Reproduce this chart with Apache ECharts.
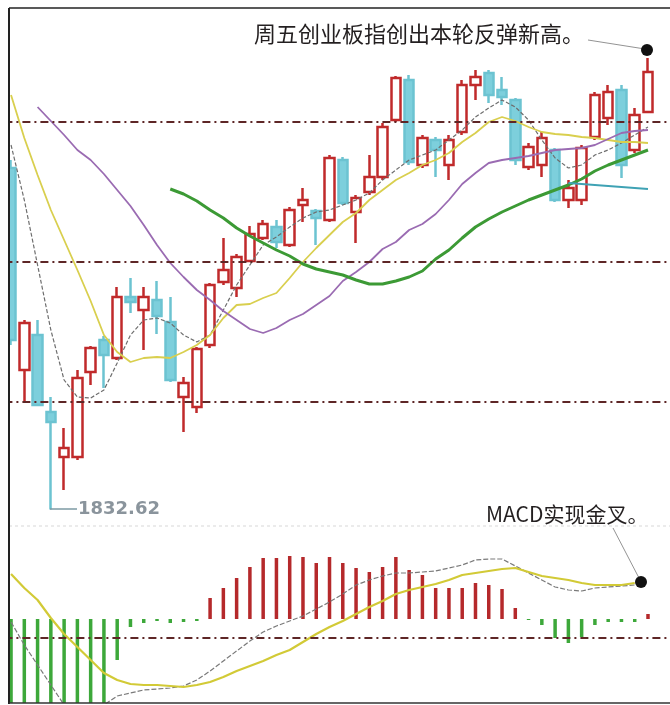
<!DOCTYPE html>
<html><head><meta charset="utf-8">
<script src="https://cdn.jsdelivr.net/npm/echarts@6/dist/echarts.min.js"></script>
<style>html,body{margin:0;padding:0;background:#fff}#c{width:670px;height:705px}</style>
</head><body><div id="c"></div>
<script>
// ---- data ----
const days = ['1','2','3','4','5','6','7','8','9','10','11','12','13','14','15','16','17','18','19','20','21','22','23','24','25','26','27','28','29','30','31','32','33','34','35','36','37','38','39','40','41','42','43','44','45','46','47','48','49'];
const kOpen  = [2174,1972,2007,1930,1885,1885,1970,2002,1984,2045,2032,2042,2020,1945,1935,1997,2060,2054,2081,2104,2115,2097,2137,2131,2122,2182,2130,2150,2165,2222,2262,2177,2202,2177,2210,2257,2269,2252,2242,2175,2177,2192,2142,2142,2205,2224,2252,2192,2230];
const kClose = [2002,2019,1937,1920,1894,1964,1994,1987,2045,2040,2045,2026,1962,1959,1993,2057,2072,2085,2108,2118,2100,2132,2142,2124,2184,2139,2144,2165,2215,2264,2180,2204,2192,2202,2257,2265,2247,2245,2182,2195,2204,2142,2154,2194,2247,2250,2177,2227,2270];
const kLow   = [1997,1939,1937,1832.62,1852,1882,1957,1954,1982,2029,1992,2008,1960,1910,1929,1994,2057,2045,2080,2102,2094,2095,2120,2097,2120,2137,2099,2147,2162,2220,2177,2174,2165,2162,2207,2242,2239,2237,2177,2172,2165,2140,2134,2137,2202,2217,2164,2189,2230];
const kHigh  = [2182,2022,2022,1945,1914,1972,1996,2006,2055,2064,2055,2061,2045,1965,1995,2059,2104,2088,2116,2122,2122,2135,2154,2133,2187,2185,2147,2187,2219,2266,2267,2207,2205,2207,2262,2272,2272,2265,2244,2199,2210,2194,2162,2197,2250,2257,2257,2234,2284];

const ma5  = [2197,2142,2077,2012,1962,1945,1944,1952,1979,2007,2022,2024,2019,2007,2000,2007,2032,2057,2077,2097,2105,2115,2124,2130,2132,2137,2142,2149,2162,2172,2182,2187,2192,2202,2212,2225,2234,2242,2235,2222,2202,2184,2174,2177,2187,2192,2199,2207,2215];
const ma10 = [2247,2204,2167,2132,2102,2072,2041,2007,1990,1980,1984,1985,1984,1990,1997,2007,2024,2037,2038,2044,2049,2064,2080,2094,2107,2120,2129,2142,2152,2162,2169,2177,2182,2189,2200,2209,2220,2225,2221,2215,2210,2208,2207,2205,2204,2202,2200,2200,2199];
const ma30 = [null,null,2235,2221,2207,2192,2182,2168,2152,2136,2117,2097,2079,2065,2052,2042,2031,2022,2013,2009,2014,2022,2028,2037,2046,2061,2070,2080,2093,2100,2112,2118,2128,2142,2158,2169,2179,2182,2184,2186,2189,2192,2193,2194,2197,2203,2209,2211,2212];
const ma60 = [null,null,null,null,null,null,null,null,null,null,null,null,2153,2148,2141,2132,2124,2114,2106,2099,2092,2086,2078,2073,2070,2067,2062,2058,2058,2061,2065,2071,2083,2092,2104,2115,2123,2130,2136,2142,2147,2152,2157,2163,2171,2177,2182,2187,2192];
const ma120 = [null,null,null,null,null,null,null,null,null,null,null,null,null,null,null,null,null,null,null,null,null,null,null,null,null,null,null,null,null,null,null,null,null,null,null,null,null,null,null,null,null,null,2159,2158,2157,2156,2155,2154,2153];
const priceLevels = [2220, 2080, 1940];

const macdHist = [-95,-100,-102,-104,-100,-98,-95,-92,-41,-8,-4,-2,-4,-3,-2,21,31,41,52,61,61,63,62,56,62,56,51,47,52,62,49,44,31,31,31,36,34,30,11,-1,-6,-19,-24,-18,-6,-3,-3,-3,5];
const dif = [-3,-26,-46,-66,-86,-96,-96,-86,-77,-74,-71,-70,-69,-67,-61,-52,-42,-32,-22,-13,-7,-2,3,10,17,25,34,39,43,46,46,47,48,51,54,59,60,60,53,46,39,32,29,28,31,32,33,34,null];
const dea = [45,31,19,1,-15,-28,-41,-54,-61,-65,-66,-66,-67,-68,-66,-63,-58,-52,-47,-42,-36,-31,-23,-15,-8,-2,5,12,18,25,29,32,35,39,44,46,48,50,51,47,43,41,39,36,34,34,34,36,null];
const macdLevels = [-19];

const title1 = '周五创业板指创出本轮反弹新高。';
const title2 = 'MACD实现金叉。';
const lowLabel = '1832.62';

// ---- chart ----
const chart = echarts.init(document.getElementById('c'), null, {renderer:'canvas'});
const kData = days.map((d,i)=>[kOpen[i],kClose[i],kLow[i],kHigh[i]]);
const dashStyle = {color:'#5e2626', width:2, type:[8,4,2,4]};
function lineSeries(data, color, width, type, xi, yi, z){
  return {type:'line', data:data, xAxisIndex:xi, yAxisIndex:yi, symbol:'none', showSymbol:false,
    connectNulls:false, silent:true, z:z||3,
    lineStyle:{color:color, width:width, type:type||'solid'}};
}
const option = {
  animation:false,
  backgroundColor:'#ffffff',
  grid:[
    {left:4.4, right:2.1, top:30, height:495},
    {left:4.4, right:2.1, top:527, height:176}
  ],
  xAxis:[
    {type:'category', data:days, gridIndex:0, show:false, boundaryGap:true, max:49},
    {type:'category', data:days, gridIndex:1, show:false, boundaryGap:true, max:49}
  ],
  yAxis:[
    {type:'value', gridIndex:0, min:1817, max:2312, show:false, splitLine:{show:false}},
    {type:'value', gridIndex:1, min:-84, max:92, show:false, splitLine:{show:false}}
  ],
  series:[
    {type:'candlestick', data:kData, xAxisIndex:0, yAxisIndex:0, barWidth:10, z:2, silent:true,
      itemStyle:{color:'#ffffff', color0:'#7dcfdc', borderColor:'#c02a2b', borderColor0:'#6cc3d1', borderWidth:2.5},
      markLine:{silent:true, symbol:'none', label:{show:false}, lineStyle:dashStyle,
        data:priceLevels.map(v=>({yAxis:v}))}
    },
    lineSeries(ma5, '#6e6e6e', 1.2, [4,2], 0, 0, 4),
    lineSeries(ma10, '#d9cf4e', 1.8, 'solid', 0, 0, 4),
    lineSeries(ma30, '#9a6bb2', 1.8, 'solid', 0, 0, 4),
    lineSeries(ma60, '#3c9a35', 3, 'solid', 0, 0, 4),
    lineSeries(ma120, '#3fa2b4', 2, 'solid', 0, 0, 4),
    {type:'bar', data:macdHist, xAxisIndex:1, yAxisIndex:1, barWidth:3.5, silent:true, z:2,
      itemStyle:{color:function(p){return p.value>=0?'#b5292b':'#3da83a';}},
      markLine:{silent:true, symbol:'none', label:{show:false}, lineStyle:dashStyle,
        data:macdLevels.map(v=>({yAxis:v}))}
    },
    lineSeries(dif, '#7a7a7a', 1.2, [5,2], 1, 1, 4),
    lineSeries(dea, '#d2ca36', 2.2, 'solid', 1, 1, 4)
  ],
  graphic:[
    {type:'rect', z:50, shape:{x:0,y:0,width:8,height:705}, style:{fill:'#ffffff'}},
    {type:'rect', z:50, shape:{x:0,y:0,width:670,height:8}, style:{fill:'#ffffff'}},
    {type:'line', z:60, shape:{x1:9,y1:8,x2:9,y2:704}, style:{stroke:'#222', lineWidth:2}},
    {type:'line', z:60, shape:{x1:9,y1:8,x2:670,y2:8}, style:{stroke:'#222', lineWidth:1.5}},
    {type:'line', z:60, shape:{x1:9,y1:703,x2:670,y2:703}, style:{stroke:'#333', lineWidth:1.5}},
    {type:'line', z:40, shape:{x1:9,y1:526,x2:670,y2:526}, style:{stroke:'#d8d8d8', lineWidth:1, lineDash:[3,3]}},
    {type:'text', z:60, x:254, y:34, style:{text:title1, font:'22px "Noto Sans CJK SC"', fill:'#231f20', textVerticalAlign:'middle', verticalAlign:'middle'}},
    {type:'line', z:60, shape:{x1:588,y1:40,x2:645,y2:49}, style:{stroke:'#777', lineWidth:0.8}},
    {type:'circle', z:61, shape:{cx:647,cy:50,r:6}, style:{fill:'#111'}},
    {type:'text', z:60, x:486, y:514, style:{text:title2, font:'21px "Noto Sans CJK SC"', fill:'#231f20', textVerticalAlign:'middle', verticalAlign:'middle'}},
    {type:'line', z:60, shape:{x1:613,y1:528,x2:639,y2:578}, style:{stroke:'#777', lineWidth:0.8}},
    {type:'circle', z:61, shape:{cx:641,cy:582,r:6}, style:{fill:'#111'}},
    {type:'line', z:60, shape:{x1:50,y1:509,x2:77,y2:509}, style:{stroke:'#7d9aa3', lineWidth:1.5}},
    {type:'text', z:60, x:78, y:509, style:{text:lowLabel, font:'bold 18px "DejaVu Sans"', fill:'#8a949c', textVerticalAlign:'middle', verticalAlign:'middle'}}
  ]
};
chart.setOption(option);
</script>
</body></html>
